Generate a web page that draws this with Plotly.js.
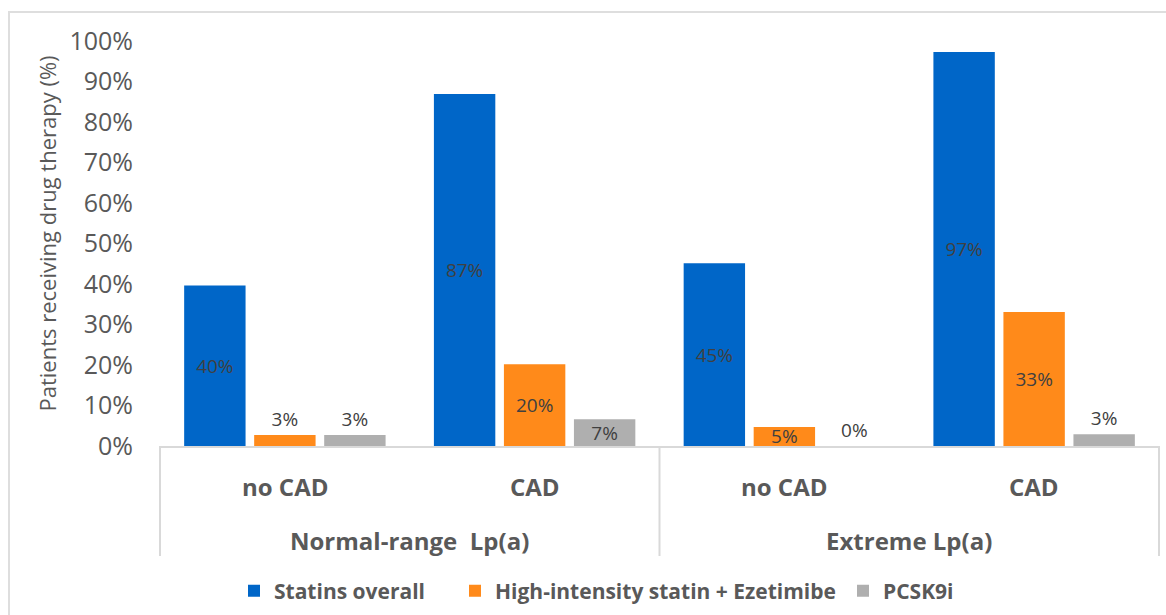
<!DOCTYPE html>
<html>
<head>
<meta charset="utf-8">
<script src="https://cdn.plot.ly/plotly-3.0.1.min.js"></script>
<style>
  html, body { margin: 0; padding: 0; background: #ffffff; }
  #wrap { position: relative; width: 1166px; height: 615px; overflow: hidden; }
  #chart { position: absolute; left: 0; top: 0; width: 1166px; height: 615px; }
  #frame { position: absolute; left: 8px; top: 11px; width: 1170px; height: 620px;
           border-left: 2px solid #dedede; border-top: 2px solid #dedede; pointer-events: none; }
</style>
</head>
<body>
<div id="wrap">
  <div id="chart"></div>
  <div id="frame"></div>
</div>
<script>
// ---- data ----
const groupLabels = ["Normal-range  Lp(a)", "Normal-range  Lp(a)", "Extreme Lp(a)", "Extreme Lp(a)"];
const cadLabels = ["no CAD", "CAD", "no CAD", "CAD"];
const seriesNames = ["Statins overall", "High-intensity statin + Ezetimibe", "PCSK9i"];
const statinsOverall = [39.6, 86.9, 45.1, 97.3];
const highIntensityEze = [2.7, 20.2, 4.7, 33.1];
const pcsk9i = [2.7, 6.6, 0, 2.9];
const yTickVals = [0, 10, 20, 30, 40, 50, 60, 70, 80, 90, 100];
const yTickText = ["0%", "10%", "20%", "30%", "40%", "50%", "60%", "70%", "80%", "90%", "100%"];
const yTitle = "Patients receiving drug therapy (%)";

const colors = ["#0066C8", "#FF8A1A", "#AFAFAF"];
const labelPos = [
  ["inside", "inside", "inside", "inside"],
  ["outside", "inside", "inside", "inside"],
  ["outside", "inside", "outside", "outside"]
];
const seriesValues = [statinsOverall, highIntensityEze, pcsk9i];
const legendIds = ["legend", "legend2", "legend3"];
const legendLeftPx = [234, 455, 843];

const FONT = "Open Sans, Liberation Sans, sans-serif";
const GREY = "#595959";
const traces = seriesValues.map((vals, i) => ({
  type: "bar",
  name: seriesNames[i],
  legend: legendIds[i],
  x: [groupLabels, cadLabels],
  y: vals,
  marker: { color: colors[i], line: { width: 0 } },
  texttemplate: "%{y:.0f}%",
  textposition: labelPos[i],
  insidetextanchor: "middle",
  constraintext: "none",
  cliponaxis: false,
  textfont: { family: FONT, size: 19, color: "#404040" },
  insidetextfont: { family: FONT, size: 19, color: "#404040" },
  outsidetextfont: { family: FONT, size: 19, color: "#404040" },
  hoverinfo: "skip"
}));

// category label annotations (derived from the label arrays)
const n = cadLabels.length;
const annotations = [];
cadLabels.forEach((lab, i) => {
  annotations.push({
    text: lab, xref: "paper", yref: "paper",
    x: (i + 0.5) / n, y: 0, xanchor: "center", yanchor: "middle", yshift: -40,
    showarrow: false,
    font: { family: FONT, size: 24, color: GREY, weight: "bold" }
  });
});
const uniqueGroups = [...new Set(groupLabels)];
const shapes = [];
const divLine = { color: "#d9d9d9", width: 2 };
shapes.push({ type: "line", xref: "paper", yref: "paper", ysizemode: "pixel", yanchor: 0,
              x0: 0, x1: 0, y0: 0, y1: -110, line: divLine });
uniqueGroups.forEach(g => {
  const idx = groupLabels.map((v, i) => v === g ? i : -1).filter(i => i >= 0);
  const first = Math.min(...idx), last = Math.max(...idx);
  annotations.push({
    text: g, xref: "paper", yref: "paper",
    x: (first + last + 1) / 2 / n, y: 0, xanchor: "center", yanchor: "middle", yshift: -94,
    showarrow: false,
    font: { family: FONT, size: 24, color: GREY, weight: "bold" }
  });
  shapes.push({ type: "line", xref: "paper", yref: "paper", ysizemode: "pixel", yanchor: 0,
                x0: (last + 1) / n, x1: (last + 1) / n, y0: 0, y1: -110, line: divLine });
});
annotations.push({
  text: yTitle, xref: "paper", yref: "paper",
  x: 0, y: 0.5, xshift: -114, yshift: 10, xanchor: "center", yanchor: "middle",
  textangle: -90, showarrow: false,
  font: { family: FONT, size: 22, color: GREY }
});

const layout = {
  width: 1166,
  height: 615,
  margin: { l: 160, r: 7, t: 41, b: 169 },
  paper_bgcolor: "#ffffff",
  plot_bgcolor: "#ffffff",
  barmode: "group",
  bargap: 0.159,
  bargroupgap: 0.123,
  showlegend: true,
  annotations: annotations,
  shapes: shapes,
  xaxis: {
    type: "multicategory",
    showline: true,
    linecolor: "#d9d9d9",
    linewidth: 2,
    showgrid: false,
    zeroline: false,
    ticks: "",
    showticklabels: false,
    showdividers: false,
    automargin: false
  },
  yaxis: {
    range: [0, 100],
    tickvals: yTickVals,
    ticktext: yTickText,
    showgrid: false,
    zeroline: false,
    showline: false,
    ticks: "",
    ticklabelstandoff: 26,
    tickfont: { family: FONT, size: 25, color: GREY },
    automargin: false
  }
};
legendIds.forEach((id, i) => {
  layout[id] = {
    orientation: "h",
    x: legendLeftPx[i] / 1166, xref: "container", xanchor: "left",
    y: 0.039, yref: "container", yanchor: "middle",
    font: { family: FONT, size: 21, color: GREY, weight: "bold" },
    bgcolor: "rgba(0,0,0,0)",
    itemclick: false
  };
});

Plotly.newPlot("chart", traces, layout, { displayModeBar: false, staticPlot: true });
</script>
</body>
</html>
